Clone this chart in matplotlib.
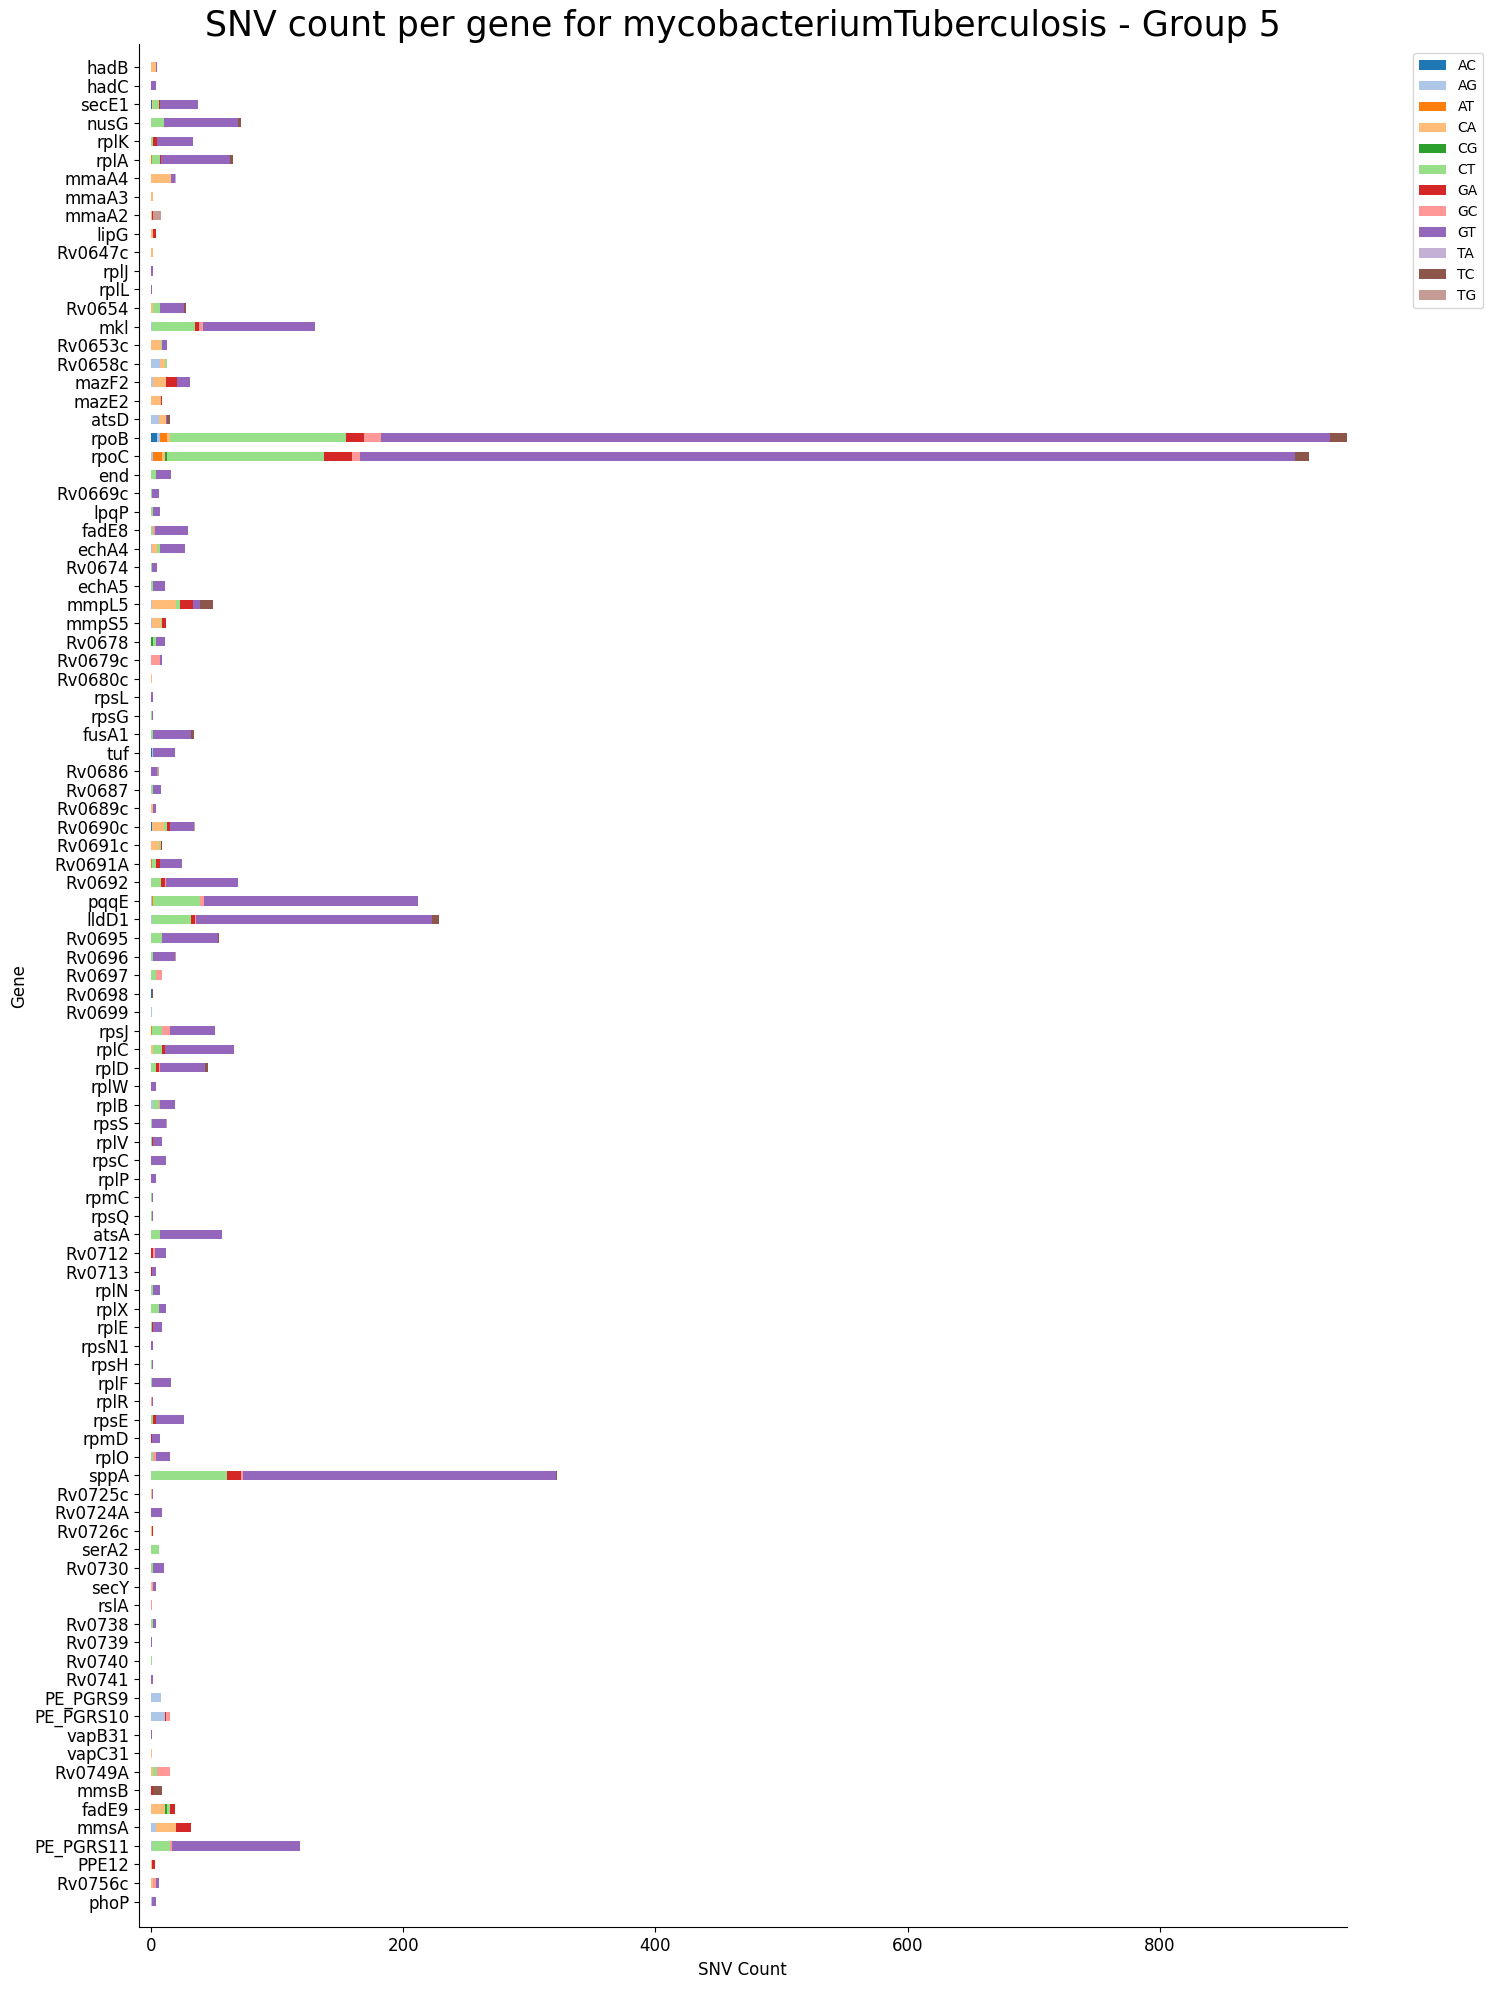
import matplotlib
matplotlib.use('Agg')
import matplotlib.pyplot as plt
import numpy as np

genes = [
    'hadB', 'hadC', 'secE1', 'nusG', 'rplK', 'rplA', 'mmaA4', 'mmaA3', 'mmaA2', 'lipG',
    'Rv0647c', 'rplJ', 'rplL', 'Rv0654', 'mkl', 'Rv0653c', 'Rv0658c', 'mazF2', 'mazE2', 'atsD',
    'rpoB', 'rpoC', 'end', 'Rv0669c', 'lpqP', 'fadE8', 'echA4', 'Rv0674', 'echA5', 'mmpL5',
    'mmpS5', 'Rv0678', 'Rv0679c', 'Rv0680c', 'rpsL', 'rpsG', 'fusA1', 'tuf', 'Rv0686', 'Rv0687',
    'Rv0689c', 'Rv0690c', 'Rv0691c', 'Rv0691A', 'Rv0692', 'pqqE', 'lldD1', 'Rv0695', 'Rv0696', 'Rv0697',
    'Rv0698', 'Rv0699', 'rpsJ', 'rplC', 'rplD', 'rplW', 'rplB', 'rpsS', 'rplV', 'rpsC',
    'rplP', 'rpmC', 'rpsQ', 'atsA', 'Rv0712', 'Rv0713', 'rplN', 'rplX', 'rplE', 'rpsN1',
    'rpsH', 'rplF', 'rplR', 'rpsE', 'rpmD', 'rplO', 'sppA', 'Rv0725c', 'Rv0724A', 'Rv0726c',
    'serA2', 'Rv0730', 'secY', 'rslA', 'Rv0738', 'Rv0739', 'Rv0740', 'Rv0741', 'PE_PGRS9', 'PE_PGRS10',
    'vapB31', 'vapC31', 'Rv0749A', 'mmsB', 'fadE9', 'mmsA', 'PE_PGRS11', 'PPE12', 'Rv0756c', 'phoP',
]

# SNV counts per substitution type, one value per gene (same order as genes)
AC = [0, 0, 1, 0, 0, 0, 0, 0, 0, 0,
      0, 0, 0, 0, 0, 0, 0, 0, 0, 0,
      5, 0, 0, 0, 0, 0, 0, 0, 0, 0,
      0, 0, 0, 0, 0, 0, 0, 1, 0, 0,
      0, 1, 0, 0, 0, 0, 0, 0, 0, 0,
      1, 0, 0, 0, 0, 0, 0, 0, 0, 0,
      0, 0, 0, 0, 0, 0, 0, 0, 0, 0,
      0, 0, 0, 0, 0, 0, 0, 0, 0, 0,
      0, 0, 0, 0, 0, 0, 0, 0, 0, 0,
      0, 0, 0, 0, 0, 0, 0, 0, 0, 0]
AG = [0, 0, 0, 0, 0, 0, 0, 0, 0, 0,
      0, 0, 0, 0, 1, 0, 7, 2, 0, 6,
      2, 2, 0, 0, 0, 0, 1, 0, 0, 1,
      1, 0, 0, 0, 0, 0, 0, 1, 0, 0,
      0, 0, 0, 0, 0, 1, 1, 0, 0, 0,
      0, 1, 0, 0, 0, 0, 2, 0, 0, 0,
      0, 0, 0, 0, 0, 0, 0, 0, 0, 0,
      0, 0, 0, 0, 0, 0, 0, 0, 0, 0,
      0, 0, 0, 0, 0, 0, 0, 0, 8, 11,
      0, 0, 0, 0, 0, 4, 1, 0, 0, 1]
AT = [0, 0, 0, 0, 0, 1, 0, 0, 0, 0,
      0, 0, 0, 0, 0, 0, 0, 0, 0, 0,
      6, 7, 0, 0, 0, 0, 0, 0, 0, 0,
      0, 0, 0, 0, 0, 0, 0, 0, 0, 0,
      0, 0, 0, 1, 0, 1, 0, 0, 0, 0,
      0, 0, 1, 0, 0, 0, 0, 0, 0, 0,
      0, 0, 0, 0, 0, 0, 0, 0, 0, 0,
      0, 0, 0, 0, 0, 0, 0, 0, 0, 0,
      0, 0, 0, 0, 0, 0, 0, 0, 0, 0,
      0, 0, 0, 0, 0, 0, 0, 0, 0, 0]
CA = [4, 0, 1, 0, 0, 0, 16, 2, 1, 2,
      2, 0, 0, 2, 0, 8, 4, 10, 8, 6,
      2, 2, 0, 0, 0, 0, 4, 0, 0, 19,
      7, 0, 0, 1, 0, 0, 0, 0, 0, 0,
      2, 9, 6, 0, 0, 0, 0, 0, 0, 0,
      0, 0, 0, 2, 0, 0, 0, 0, 0, 0,
      0, 0, 0, 0, 0, 0, 0, 0, 0, 0,
      0, 0, 0, 0, 0, 0, 0, 1, 0, 1,
      0, 0, 1, 0, 0, 0, 0, 0, 0, 0,
      0, 1, 2, 0, 11, 16, 0, 1, 2, 0]
CG = [0, 0, 0, 0, 0, 0, 0, 0, 0, 0,
      0, 0, 0, 0, 0, 0, 0, 0, 0, 0,
      0, 2, 0, 0, 0, 0, 0, 0, 0, 0,
      0, 2, 0, 0, 0, 0, 0, 0, 0, 0,
      0, 0, 0, 0, 0, 0, 0, 0, 0, 0,
      0, 0, 0, 0, 0, 0, 0, 0, 0, 0,
      0, 0, 0, 0, 0, 0, 0, 0, 0, 0,
      0, 0, 0, 0, 0, 0, 0, 0, 0, 0,
      0, 0, 0, 0, 0, 0, 0, 0, 0, 0,
      0, 0, 0, 0, 2, 0, 0, 0, 0, 0]
CT = [0, 0, 4, 10, 2, 6, 0, 0, 0, 0,
      0, 0, 0, 5, 34, 1, 2, 0, 0, 0,
      140, 124, 4, 1, 2, 2, 2, 1, 2, 3,
      1, 2, 0, 0, 0, 1, 2, 0, 0, 2,
      0, 3, 2, 3, 8, 37, 31, 9, 2, 4,
      0, 0, 8, 7, 4, 0, 4, 1, 1, 0,
      0, 1, 1, 7, 0, 0, 2, 6, 1, 0,
      1, 1, 0, 2, 0, 2, 60, 0, 0, 0,
      6, 2, 0, 0, 2, 0, 1, 0, 0, 0,
      0, 0, 3, 0, 2, 0, 14, 0, 0, 0]
GA = [0, 0, 1, 0, 3, 1, 0, 0, 1, 2,
      0, 0, 0, 0, 3, 0, 0, 9, 1, 0,
      14, 22, 0, 0, 0, 0, 0, 0, 0, 10,
      3, 0, 0, 0, 0, 0, 0, 0, 0, 0,
      0, 2, 1, 3, 3, 0, 3, 0, 0, 0,
      0, 0, 0, 2, 2, 0, 0, 0, 1, 0,
      0, 0, 0, 0, 2, 1, 0, 0, 1, 0,
      0, 0, 0, 2, 1, 0, 11, 0, 0, 1,
      0, 0, 0, 0, 0, 0, 0, 0, 0, 1,
      0, 0, 0, 2, 4, 12, 0, 2, 0, 0]
GC = [0, 0, 0, 0, 0, 0, 0, 0, 0, 0,
      0, 0, 0, 0, 3, 0, 0, 0, 0, 0,
      13, 7, 0, 0, 0, 1, 0, 0, 0, 0,
      0, 0, 7, 0, 0, 0, 0, 0, 0, 0,
      0, 0, 0, 0, 1, 3, 1, 0, 0, 5,
      0, 0, 6, 0, 1, 0, 1, 0, 0, 0,
      0, 0, 0, 0, 1, 0, 0, 0, 0, 0,
      0, 0, 1, 0, 0, 2, 2, 0, 0, 0,
      0, 0, 1, 1, 0, 0, 0, 0, 0, 3,
      0, 0, 10, 0, 0, 0, 2, 0, 2, 0]
GT = [1, 4, 30, 59, 28, 55, 3, 0, 0, 0,
      0, 2, 1, 19, 89, 4, 0, 10, 0, 1,
      753, 741, 12, 5, 5, 26, 20, 4, 9, 6,
      0, 7, 2, 0, 2, 1, 30, 17, 5, 6,
      2, 19, 0, 18, 57, 170, 187, 44, 17, 0,
      0, 0, 36, 55, 36, 4, 12, 11, 7, 12,
      4, 1, 1, 49, 9, 3, 5, 6, 7, 2,
      1, 15, 1, 22, 6, 11, 248, 1, 9, 0,
      0, 8, 2, 0, 2, 1, 0, 2, 0, 0,
      1, 0, 0, 0, 0, 0, 101, 0, 2, 3]
TA = [0, 0, 0, 0, 0, 0, 1, 0, 0, 0] + [0] * 90
TC = [0, 0, 0, 2, 0, 2, 0, 0, 0, 0,
      0, 0, 0, 2, 0, 0, 0, 0, 0, 2,
      13, 11, 0, 0, 0, 0, 0, 0, 0, 10,
      0, 0, 0, 0, 0, 0, 2, 0, 0, 0,
      0, 0, 0, 0, 0, 0, 5, 1, 0, 0,
      1, 0, 0, 0, 2, 0, 0, 0, 0, 0,
      0, 0, 0, 0, 0, 0, 0, 0, 0, 0,
      0, 0, 0, 0, 0, 0, 1, 0, 0, 0,
      0, 0, 0, 0, 0, 0, 0, 0, 0, 0,
      0, 0, 0, 7, 0, 0, 0, 0, 0, 0]
TG = [0, 0, 0, 0, 0, 0, 0, 0, 6, 0,
      0, 0, 0, 0, 0, 0, 0, 0, 0, 0,
      0, 0, 0, 0, 0, 0, 0, 0, 0, 0,
      0, 0, 0, 0, 0, 0, 0, 0, 1, 0,
      0, 1, 0, 0, 0, 0, 0, 0, 1, 0,
      0, 0, 0, 0, 0, 0, 0, 1, 0, 0,
      0, 0, 0, 0, 0, 0, 0, 0, 0, 0,
      0, 0, 0, 0, 0, 0, 0, 0, 0, 0,
      0, 0, 0, 0, 0, 0, 0, 0, 0, 0,
      0, 0, 0, 0, 0, 0, 0, 0, 0, 0]

mutation_types = ['AC', 'AG', 'AT', 'CA', 'CG', 'CT', 'GA', 'GC', 'GT', 'TA', 'TC', 'TG']
counts = [AC, AG, AT, CA, CG, CT, GA, GC, GT, TA, TC, TG]
colors = plt.cm.tab20.colors[:12]

fig = plt.figure(figsize=(14.93, 19.92), dpi=100)
ax = fig.add_axes([0.0931, 0.0324, 0.8089, 0.9455])

y = np.arange(len(genes))
left = np.zeros(len(genes))
for name, vals, col in zip(mutation_types, counts, colors):
    vals = np.array(vals, dtype=float)
    ax.barh(y, vals, left=left, height=0.5, color=col, label=name)
    left += vals

# small padding on the left only, bars reach the right edge
ax.set_xlim(-0.01 * left.max(), left.max())
ax.set_ylim(len(genes) - 1 + 1.4, -1.245)
ax.set_yticks(y)
ax.set_yticklabels(genes, fontsize=12)
ax.tick_params(axis='x', labelsize=12)
ax.set_xlabel('SNV Count', fontsize=12)
ax.set_ylabel('Gene', fontsize=12)
ax.set_title('SNV count per gene for mycobacteriumTuberculosis - Group 5', fontsize=25)
ax.spines['top'].set_visible(False)
ax.spines['right'].set_visible(False)

fig.legend(loc='upper left', bbox_to_anchor=(0.9464, 0.9734), borderaxespad=0, fontsize=10)

plt.savefig('out.png', dpi=100)
plt.close()
